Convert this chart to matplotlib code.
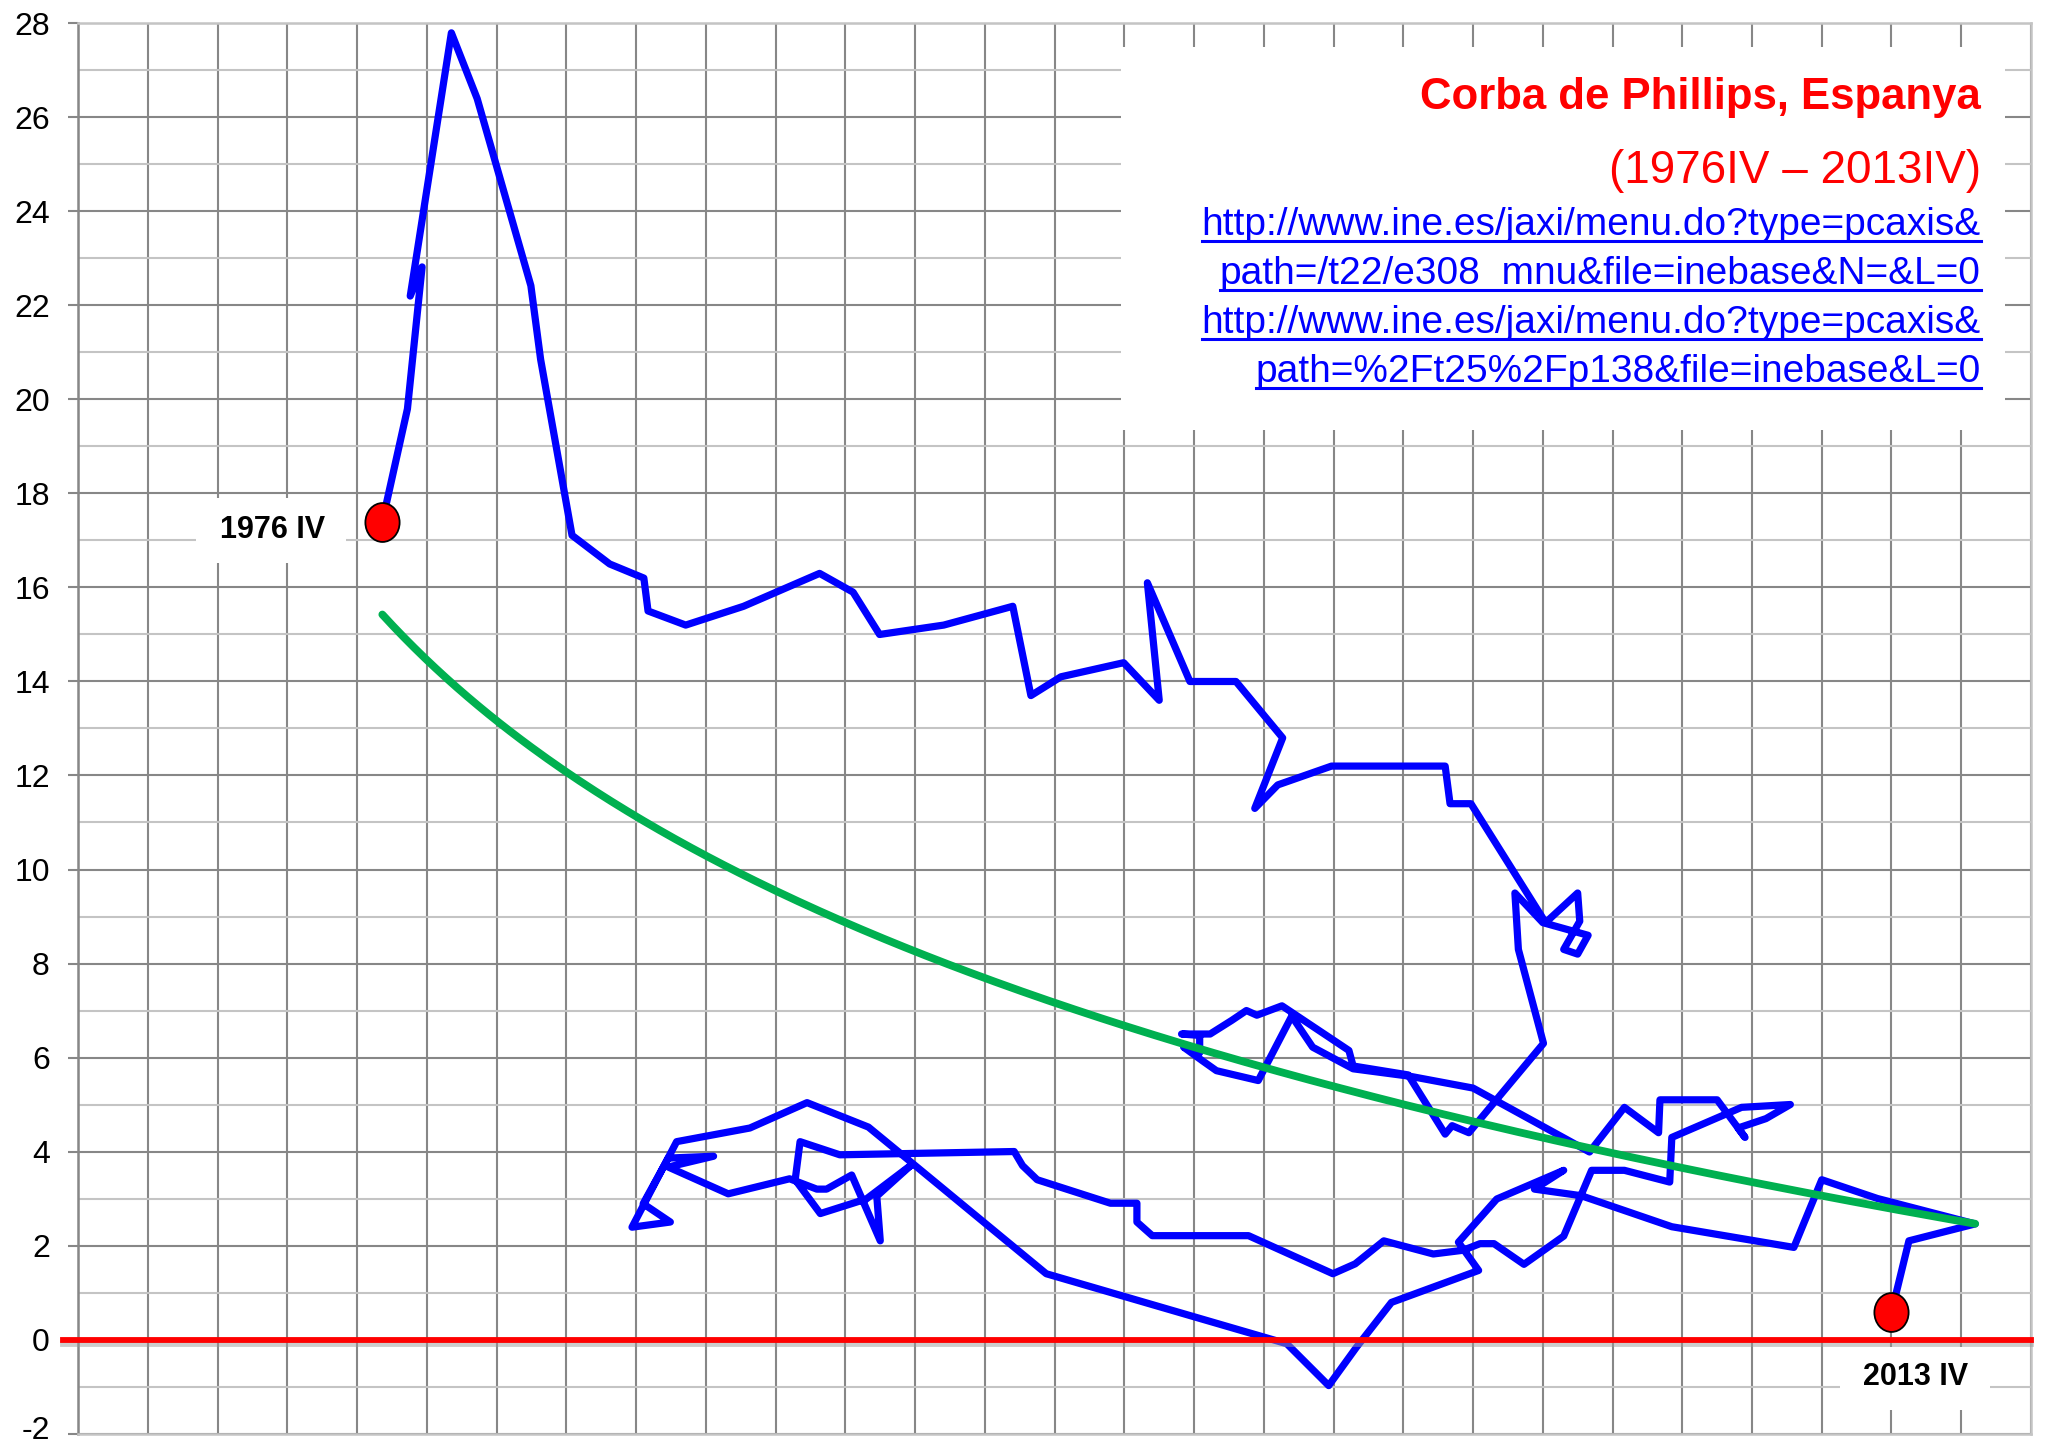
import numpy as np
import matplotlib
matplotlib.use('Agg')
import matplotlib.pyplot as plt
import matplotlib.patheffects as pe
from matplotlib.patches import Rectangle
from matplotlib.lines import Line2D
from matplotlib.path import Path
from matplotlib.transforms import Affine2D, ScaledTranslation

plt.rcParams['font.family'] = ['Liberation Sans', 'DejaVu Sans']
plt.rcParams['axes.unicode_minus'] = False

# taxa d'atur (%) i inflacio (%), 1976IV - 2013IV, llegits del grafic
atur = [4.36, 4.72, 4.93, 4.76, 5.35, 5.72, 6.49, 6.63, 7.08, 7.62,
        8.11, 8.17, 8.71, 9.54, 10.63, 11.11, 11.49, 12.41, 13.40, 13.66,
        14.09, 14.99, 15.50, 15.33, 15.94, 16.60, 17.27, 16.87, 17.20, 17.97,
        19.60, 19.67, 19.97, 21.04, 21.50, 21.53, 21.30, 21.50, 21.65, 21.00,
        20.60, 20.65, 21.01, 19.94, 19.70, 19.60, 19.07, 18.28, 18.22, 17.26,
        16.90, 16.75, 16.54, 16.23, 15.82, 16.08, 16.08, 15.85, 16.12, 16.32,
        16.92, 17.40, 17.70, 18.28, 19.10, 20.00, 21.67, 22.17, 22.66, 22.68,
        23.50, 23.90, 23.80, 24.20, 24.55, 23.85, 22.85, 22.82, 22.17, 21.70,
        21.30, 20.73, 20.30, 20.10, 19.86, 19.43, 18.72, 18.31, 17.99, 16.78,
        15.40, 15.18, 15.18, 14.80, 13.75, 13.54, 13.42, 10.92, 10.35, 10.28,
        10.64, 11.30, 11.95, 11.45, 11.50, 11.09, 10.73, 10.59, 10.20, 9.32,
        8.46, 9.11, 8.46, 8.10, 8.49, 7.94, 8.58, 9.63, 10.45, 11.33,
        11.74, 13.88, 17.33, 17.93, 18.33, 18.83, 20.08, 19.79, 20.34, 21.30,
        20.88, 21.55, 22.85, 24.60, 25.00, 25.80, 27.20, 26.25, 26.00]
inflacio = [17.40, 19.80, 22.82, 22.20, 27.80, 26.40, 22.42, 20.85, 17.11, 16.50,
            16.20, 15.50, 15.20, 15.60, 16.30, 15.90, 15.00, 15.20, 15.60, 13.70,
            14.10, 14.40, 13.60, 16.10, 14.00, 14.00, 12.80, 11.30, 11.80, 12.20,
            12.20, 11.40, 11.40, 8.87, 9.50, 8.90, 8.30, 8.20, 8.60, 8.87,
            9.50, 8.30, 6.30, 4.40, 4.55, 4.37, 5.63, 5.82, 6.15, 7.10,
            6.90, 7.00, 6.79, 6.50, 6.50, 6.47, 6.10, 6.22, 5.93, 5.72,
            5.51, 6.88, 6.22, 5.76, 5.60, 5.35, 3.99, 4.94, 4.40, 5.10,
            5.10, 4.30, 4.50, 4.70, 5.00, 4.94, 4.30, 3.35, 3.60, 3.60,
            2.20, 1.60, 2.04, 2.04, 1.90, 1.82, 2.10, 1.61, 1.40, 2.21,
            2.21, 2.50, 2.90, 2.90, 3.40, 3.70, 4.00, 3.93, 4.21, 3.40,
            2.68, 2.99, 3.72, 3.05, 2.10, 3.50, 3.20, 3.20, 3.42, 3.10,
            3.67, 3.90, 3.86, 2.89, 2.50, 2.39, 4.21, 4.50, 5.04, 4.52,
            4.02, 1.40, -0.09, -0.98, -0.16, 0.79, 1.47, 2.07, 2.99, 3.60,
            3.20, 3.06, 2.40, 1.96, 3.40, 3.00, 2.46, 2.10, 0.58]

# linia de tendencia logaritmica (y = a + b*ln x), llegida del grafic
tend_a = 25.85
tend_b = -7.08

titol = 'Corba de Phillips, Espanya'
periode = '(1976IV \u2013 2013IV)'
enllacos = ['http://www.ine.es/jaxi/menu.do?type=pcaxis&',
            'path=/t22/e308_mnu&file=inebase&N=&L=0',
            'http://www.ine.es/jaxi/menu.do?type=pcaxis&',
            'path=%2Ft25%2Fp138&file=inebase&L=0']
etiqueta_inici = '1976 IV'
etiqueta_final = '2013 IV'
yticks = list(range(-2, 29, 2))

fig = plt.figure(figsize=(20.49, 14.47), dpi=100)
ax = fig.add_axes([0.0382, 0.0093, 0.9530, 0.9745])
ax.set_xlim(0, 28)
ax.set_ylim(-2, 28)

# graella
ax.set_axisbelow(True)
ax.set_xticks(np.arange(0, 29))
ax.set_yticks(yticks)
ax.set_yticks(np.arange(-1, 28, 2), minor=True)
ax.grid(True, which='major', color='#878787', lw=1.5)
ax.grid(True, which='minor', axis='y', color='#c4c4c4', lw=1.5)
ax.tick_params(axis='x', which='both', length=0, labelbottom=False)
ax.tick_params(axis='y', which='major', length=7.5, width=1.5, color='#878787',
               pad=13, labelsize=23)
ax.tick_params(axis='y', which='minor', length=0)
ax.spines['left'].set_color('#878787')
ax.spines['left'].set_linewidth(1.8)
for s in ['top', 'right', 'bottom']:
    ax.spines[s].set_color('#c4c4c4')
    ax.spines[s].set_linewidth(1.8)

# caixes blanques
ax.add_patch(Rectangle((14.95, 19.35), 12.68, 8.15, fc='white', ec='none', zorder=1))
ax.add_patch(Rectangle((1.69, 16.53), 2.15, 1.38, fc='white', ec='none', zorder=1))
ax.add_patch(Rectangle((25.26, -1.5), 2.15, 1.34, fc='white', ec='none', zorder=1))

# corba
ax.plot(atur, inflacio, color='#0000ff', lw=5.2, solid_joinstyle='round',
        solid_capstyle='round', zorder=3)

# tendencia
xt = np.linspace(min(atur), max(atur), 300)
ax.plot(xt, tend_a + tend_b * np.log(xt), color='#00b050', lw=5.6, zorder=4,
        solid_capstyle='round')

# linia del zero
ax.axhline(0, xmin=-0.008, xmax=1.0, color='#ff0000', lw=4.2, zorder=4.5,
           clip_on=False,
           path_effects=[pe.SimpleLineShadow(offset=(0, -3), shadow_color='#9a9a9a', alpha=0.5),
                         pe.Normal()])

# punts inicial i final
ell = Path.unit_circle().transformed(Affine2D().scale(0.88, 1.0))
ax.plot([atur[0], atur[-1]], [inflacio[0], inflacio[-1]], ls='none', marker=ell,
        ms=28, mfc='#ff0000', mec='black', mew=1.3, zorder=6)

ax.text(2.78, 17.22, etiqueta_inici, ha='center', va='center', fontsize=22,
        fontweight='bold', zorder=7)
ax.text(26.35, -0.79, etiqueta_final, ha='center', va='center', fontsize=22,
        fontweight='bold', zorder=7)

# titol i fonts
xr = 27.28
ax.text(xr, 26.19, titol, ha='right', va='baseline', fontsize=31.5,
        fontweight='bold', color='#ff0000', zorder=7)
ax.text(xr, 24.6, periode, ha='right', va='baseline', fontsize=33,
        color='#ff0000', zorder=7)
bases = [23.5, 22.45, 21.42, 20.38]
links = []
for txt, yb in zip(enllacos, bases):
    t = ax.text(xr, yb, txt, ha='right', va='baseline', fontsize=28,
                color='#0000ff', zorder=7)
    links.append((t, yb))

fig.canvas.draw()
r = fig.canvas.get_renderer()
inv = fig.transFigure.inverted()
for t, yb in links:
    bb = t.get_window_extent(r)
    ypix = ax.transData.transform((0, yb))[1] - 6
    (x0, y0), (x1, _) = inv.transform([(bb.x0, ypix), (bb.x1, ypix)])
    fig.add_artist(Line2D([x0, x1], [y0, y0], transform=fig.transFigure,
                          color='#0000ff', lw=2.2, zorder=7))

# l'etiqueta -2 queda a tocar de la vora: la pugem una mica
for tick in ax.yaxis.get_major_ticks():
    if tick.get_loc() == -2:
        lab = tick.label1
        lab.set_transform(lab.get_transform() +
                          ScaledTranslation(0, 6 / 100, fig.dpi_scale_trans))

fig.savefig('out.png', dpi=100)
